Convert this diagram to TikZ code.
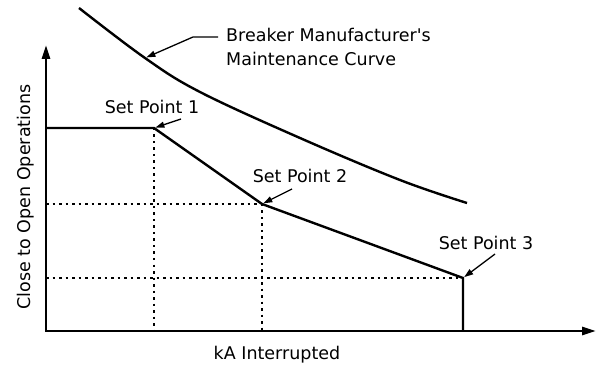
\documentclass[tikz,border=0pt]{standalone}
\usepackage{fontspec}
\setmainfont{DejaVu Sans}
\usetikzlibrary{arrows.meta}

\begin{document}
\begin{tikzpicture}[x=1pt,y=1pt]
            \tikzstyle{every node}+=[inner sep=0pt, font=\fontsize{17.5}{24}\selectfont]
            \tikzstyle{axis}=[line width=2.6pt, {Triangle[length=14pt,width=8pt]}-{Triangle[length=14pt,width=8pt]}]
            \tikzstyle{limit}=[line width=2.4pt, line join=miter]
            \tikzstyle{guide}=[line width=1.2pt, dash pattern=on 2.5pt off 4pt]
            \tikzstyle{pointer}=[line width=1.3pt, -{Triangle[length=9pt,width=6pt]}, shorten >=1.5pt]
            \useasboundingbox (0,0) rectangle (597,-366);
            \coordinate (O) at (46,-331);
            \coordinate (Ytip) at (46,-45);
            \coordinate (Xtip) at (596,-331);
            \coordinate (Q0) at (46,-128);
            \coordinate (Q1) at (154,-128);
            \coordinate (Q2) at (262,-204);
            \coordinate (Q3) at (463,-278);
            \coordinate (Q4) at (463,-331);
            % dotted guides
            \draw [guide] (Q1) -- (Q1 |- O);
            \draw [guide] (Q2) -- (Q2 |- O);
            \draw [guide] (O |- Q2) -- (Q2);
            \draw [guide] (O |- Q3) -- (Q3);
            % axes
            \draw [axis] (Ytip) -- (O) -- (Xtip);
            \node [rotate=90, anchor=base] (ylbl) at (30,-197) {Close to Open Operations};
            \node [anchor=base] (xlbl) at (277,-359) {kA Interrupted};
            % set point line
            \draw [limit] (Q0) -- (Q1) -- (Q2) -- (Q3) -- (Q4);
            \node [anchor=base] (sp1) at (152,-114) {Set Point 1};
            \node [anchor=base] (sp2) at (300,-183) {Set Point 2};
            \node [anchor=base] (sp3) at (486,-249) {Set Point 3};
            \coordinate (P1) at (181,-119);
            \coordinate (P2) at (292,-189);
            \coordinate (P3) at (495,-254);
            \draw [pointer] (P1) -- (Q1);
            \draw [pointer] (P2) -- (Q2);
            \draw [pointer] (P3) -- (Q3);
            % maintenance curve
            \draw [limit, line cap=butt] plot [smooth, tension=0.6] coordinates {(79,-8) (145,-58) (200,-92) (300,-138) (400,-180) (467,-203)};
            \coordinate (M) at (145,-58);
            \coordinate (K) at (193,-37);
            \node [anchor=north west, align=left] (brk) at (226,-28) {Breaker Manufacturer\textquotesingle s\\Maintenance Curve};
            \draw [pointer] ([xshift=-8pt]brk.west |- K) -- (K) -- (M);
\end{tikzpicture}
\end{document}
